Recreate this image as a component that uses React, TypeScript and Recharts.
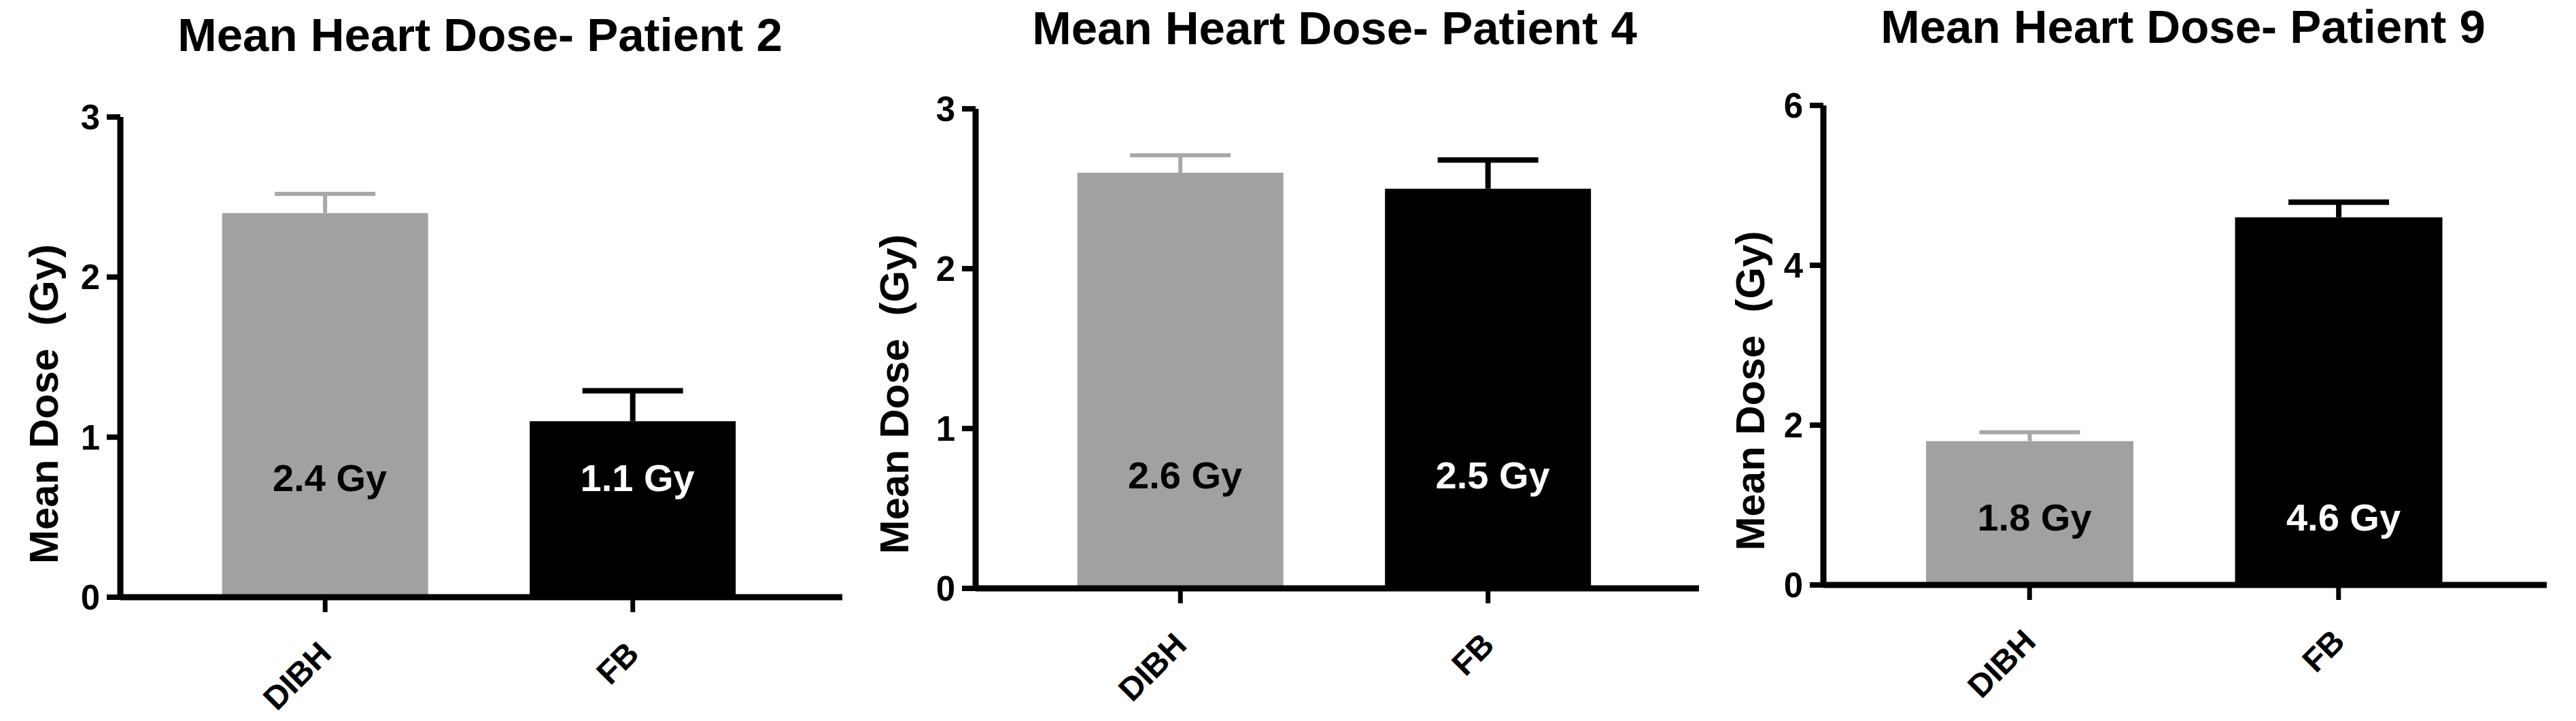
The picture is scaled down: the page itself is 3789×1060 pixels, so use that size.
import React from 'react';
import { BarChart, Bar, XAxis, YAxis, Cell, LabelList } from 'recharts';

// ---- data ----
const categories = ['DIBH', 'FB'];
const patient2Mean = [2.4, 1.1];
const patient2Err = [0.12, 0.19];
const patient4Mean = [2.6, 2.5];
const patient4Err = [0.11, 0.18];
const patient9Mean = [1.8, 4.6];
const patient9Err = [0.11, 0.19];
const titles = ['Mean Heart Dose- Patient 2', 'Mean Heart Dose- Patient 4', 'Mean Heart Dose- Patient 9'];
const ticksTo3 = [0, 1, 2, 3];
const ticksTo6 = [0, 2, 4, 6];
const yAxisTitle = 'Mean Dose\u00A0 (Gy)';

// ---- style ----
const FONT = '"Liberation Sans", Arial, Helvetica, sans-serif';
const GRAY = '#a1a1a1';
const barColors = [GRAY, '#000000'];
const errColors = ['#a8a8a8', '#000000'];
const errWidths = [6, 8];
const labelColors = ['#000000', '#ffffff'];
const W = 1263;
const H = 1060;
const CAP_HALF = 74;

function buildRows(mean: number[], err: number[]) {
  return categories.map((c, i) => ({
    cat: c,
    mean: mean[i],
    err: err[i],
    label: `${mean[i].toFixed(1)} Gy`,
  }));
}

const XTick = (props: any) => {
  const { x, y, payload } = props;
  const ax = x;
  const ay = y + 52;
  return (
    <text
      x={ax}
      y={ay}
      dy="0.35em"
      textAnchor="end"
      transform={`rotate(-45, ${ax}, ${ay})`}
      fontFamily={FONT}
      fontSize={48}
      fontWeight="bold"
      fill="#000"
    >
      {payload.value}
    </text>
  );
};

// upper-only error bar drawn on the stacked "err" segment
const ErrShape = (props: any) => {
  const { x, y, width, height, index } = props;
  if (x == null || y == null) return null;
  const i = index != null ? index : 0;
  const cx = x + width / 2;
  const col = errColors[i];
  const sw = errWidths[i];
  return (
    <g>
      <line x1={cx} y1={y + height} x2={cx} y2={y} stroke={col} strokeWidth={sw} />
      <line x1={cx - CAP_HALF} y1={y} x2={cx + CAP_HALF} y2={y} stroke={col} strokeWidth={sw} />
    </g>
  );
};

type Cfg = {
  left: number;
  top: number;
  right: number;
  yw: number;
  xh: number;
  padL: number;
  padR: number;
  lift: number;
  yLabOff: number;
  yLabDy: number;
  domain: [number, number];
  ticks: number[];
};

function Panel({ rows, cfg }: { rows: any[]; cfg: Cfg }) {
  const plotTop = cfg.top;
  const plotBottom = H - cfg.xh;
  const renderYLabel = (p: any) => {
    const vb = p && p.viewBox && p.viewBox.width != null ? p.viewBox : { x: 0, y: plotTop, width: cfg.yw, height: plotBottom - plotTop };
    const cx = vb.x + vb.width - cfg.yLabOff;
    const cy = vb.y + vb.height / 2 + cfg.yLabDy;
    return (
      <text
        x={cx}
        y={cy}
        dy="0.35em"
        textAnchor="middle"
        transform={`rotate(-90, ${cx}, ${cy})`}
        fontFamily={FONT}
        fontSize={60}
        fontWeight="bold"
        fill="#000"
      >
        {yAxisTitle}
      </text>
    );
  };
  const renderBarLabel = (p: any) => {
    const vb = p.viewBox || p;
    const idx = p.index != null ? p.index : 0;
    const cx = vb.x + vb.width / 2 + 7;
    const by = vb.y + vb.height - cfg.lift;
    return (
      <text
        x={cx}
        y={by}
        textAnchor="middle"
        fontFamily={FONT}
        fontSize={56}
        fontWeight="bold"
        fill={labelColors[idx]}
      >
        {p.value}
      </text>
    );
  };
  return (
    <div style={{ position: 'absolute', left: cfg.left, top: 0, width: W, height: H }}>
      <BarChart
        width={W}
        height={H}
        data={rows}
        margin={{ top: cfg.top, right: cfg.right, bottom: 0, left: 0 }}
        barCategoryGap="16.5%"
      >
        <XAxis
          dataKey="cat"
          type="category"
          padding={{ left: cfg.padL, right: cfg.padR }}
          height={cfg.xh}
          axisLine={{ stroke: '#000', strokeWidth: 9 }}
          tickLine={{ stroke: '#000', strokeWidth: 7 }}
          tickSize={22}
          tickMargin={0}
          interval={0}
          tick={<XTick />}
        />
        <YAxis
          type="number"
          domain={cfg.domain}
          ticks={cfg.ticks}
          interval={0}
          width={cfg.yw}
          allowDataOverflow
          axisLine={{ stroke: '#000', strokeWidth: 9 }}
          tickLine={{ stroke: '#000', strokeWidth: 8 }}
          tickSize={20}
          tickMargin={10}
          tick={{ fontFamily: FONT, fontSize: 51, fontWeight: 'bold', fill: '#000' }}
          label={{ content: renderYLabel }}
        />
        <Bar dataKey="mean" stackId="s" isAnimationActive={false}>
          {rows.map((r, i) => (
            <Cell key={r.cat} fill={barColors[i]} />
          ))}
          <LabelList dataKey="label" content={renderBarLabel} />
        </Bar>
        <Bar dataKey="err" stackId="s" isAnimationActive={false} shape={<ErrShape />} />
      </BarChart>
    </div>
  );
}

const cfgs: Cfg[] = [
  { left: 0, top: 172, right: 24, yw: 177, xh: 182, padL: 75, padR: 82, lift: 156, yLabOff: 113, yLabDy: 69, domain: [0, 3], ticks: ticksTo3 },
  { left: 1263, top: 160, right: 27, yw: 172, xh: 195, padL: 75, padR: 84, lift: 147, yLabOff: 120, yLabDy: 67, domain: [0, 3], ticks: ticksTo3 },
  { left: 2526, top: 155, right: 43, yw: 156, xh: 200, padL: 76, padR: 79, lift: 80, yLabOff: 108, yLabDy: 67, domain: [0, 6], ticks: ticksTo6 },
];

const titlePos = [
  { cx: 706, base: 75 },
  { cx: 1963, base: 65 },
  { cx: 3211, base: 63 },
];

export default function App() {
  const rowSets = [
    buildRows(patient2Mean, patient2Err),
    buildRows(patient4Mean, patient4Err),
    buildRows(patient9Mean, patient9Err),
  ];
  return (
    <div style={{ position: 'absolute', left: 0, top: 0, width: 3789, height: 1060, background: '#fff', overflow: 'hidden' }}>
      {rowSets.map((rows, i) => (
        <Panel key={i} rows={rows} cfg={cfgs[i]} />
      ))}
      <svg width={3789} height={1060} style={{ position: 'absolute', left: 0, top: 0, pointerEvents: 'none' }}>
        {titles.map((t, i) => (
          <text
            key={t}
            x={titlePos[i].cx}
            y={titlePos[i].base}
            textAnchor="middle"
            fontFamily={FONT}
            fontSize={69}
            fontWeight="bold"
            fill="#000"
          >
            {t}
          </text>
        ))}
      </svg>
    </div>
  );
}
